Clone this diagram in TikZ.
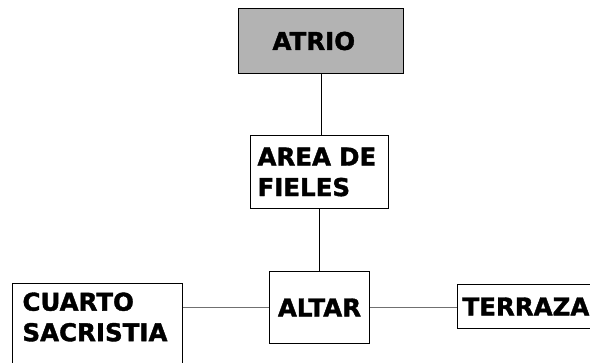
\documentclass[tikz,border=0pt]{standalone}
\usepackage{fontspec}
\setmainfont{DejaVu Sans}[BoldFeatures={FakeBold=1.5}]
\usepackage{tikz}
\usetikzlibrary{positioning}
\definecolor{grisatrio}{HTML}{B3B3B3}
\definecolor{grislinea}{HTML}{707070}

\tikzset{
  sala/.style={draw, line width=1pt, anchor=north west, align=left,
    inner ysep=0pt, font=\fontsize{24.5}{30.5}\selectfont\bfseries},
  enlace/.style={line width=1pt}
}

\begin{document}
\begin{tikzpicture}[x=1pt,y=-1pt]
      \fill[white] (0,0) rectangle (590,363);
      \useasboundingbox (0,0) rectangle (590,363);
      \clip (0,0) rectangle (590,363);

      \node[sala, fill=grisatrio, minimum width=165pt, minimum height=65pt,
        text width=97pt, inner xsep=34pt] (atrio) at (238,8) {ATRIO};
      \node[sala, minimum width=138pt, minimum height=73pt,
        text width=124pt, inner xsep=7pt] (fieles) at (250,135) {AREA DE\\FIELES};
      \node[sala, minimum width=100pt, minimum height=72pt,
        align=center, inner xsep=0pt] (altar) at (269,271) {ALTAR};
      \node[sala, minimum width=140pt, minimum height=44pt,
        text width=130pt, inner xsep=5pt] (terraza) at (457,284) {TERRAZA};
      \node[sala, minimum width=170pt, text width=150pt, inner xsep=10pt,
        inner ysep=9pt, text depth=60pt] (cuarto) at (12,283) {CUARTO\\SACRISTIA};

      \draw[enlace] (atrio.south) -- (atrio.south |- fieles.north);
      \draw[enlace] (fieles.south) -- (altar.north);
      \draw[enlace, grislinea] (altar.west) -- (altar.west -| cuarto.east);
      \draw[enlace, grislinea] (altar.east) -- (altar.east -| terraza.west);
\end{tikzpicture}
\end{document}
